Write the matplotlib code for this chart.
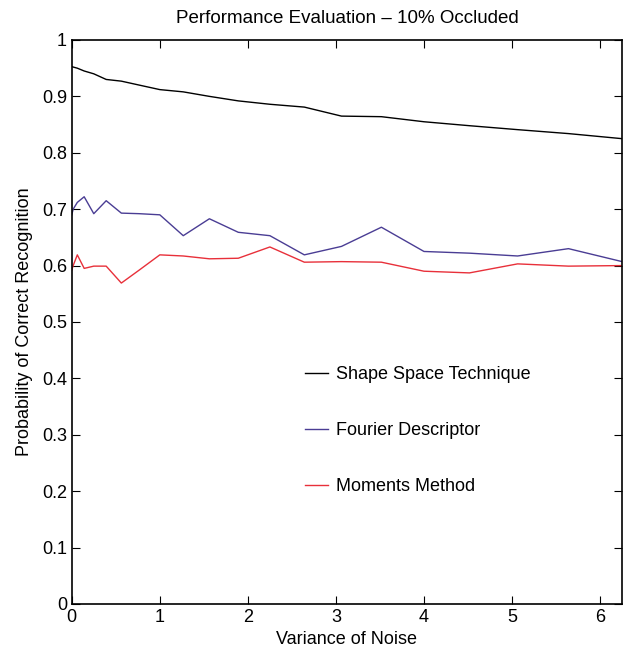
import matplotlib
matplotlib.use("Agg")
import matplotlib.pyplot as plt

plt.rcParams['font.family'] = ['Liberation Sans', 'DejaVu Sans']

noise_var = [0, 0.016, 0.063, 0.141, 0.25, 0.391, 0.563, 0.766, 1.0, 1.266, 1.563,
             1.891, 2.25, 2.641, 3.063, 3.516, 4.0, 4.516, 5.063, 5.641, 6.25]

shape_space = [0.953, 0.952, 0.950, 0.945, 0.940, 0.930, 0.927, 0.920, 0.912, 0.908, 0.900,
               0.892, 0.886, 0.881, 0.865, 0.864, 0.855, 0.848, 0.841, 0.834, 0.825]
fourier = [0.690, 0.700, 0.712, 0.722, 0.692, 0.715, 0.693, 0.692, 0.690, 0.653, 0.683,
           0.659, 0.653, 0.619, 0.634, 0.668, 0.625, 0.622, 0.617, 0.630, 0.607]
moments = [0.592, 0.600, 0.619, 0.595, 0.599, 0.599, 0.569, 0.592, 0.619, 0.617, 0.612,
           0.613, 0.633, 0.606, 0.607, 0.606, 0.590, 0.587, 0.603, 0.599, 0.600]

fig = plt.figure(figsize=(6.24, 6.64), dpi=100)
ax = fig.add_axes([0.115, 0.0904, 0.882, 0.8494])

ax.plot(noise_var, shape_space, color='black', lw=1.0, label='Shape Space Technique')
ax.plot(noise_var, fourier, color='#4a3d94', lw=1.0, label='Fourier Descriptor')
ax.plot(noise_var, moments, color='#e8303a', lw=1.0, label='Moments Method')

ax.set_xlim(0, 6.25)
ax.set_ylim(0, 1)
ax.set_xticks(range(0, 7))
ax.set_yticks([i / 10 for i in range(11)])
ax.set_yticklabels(['0', '0.1', '0.2', '0.3', '0.4', '0.5', '0.6', '0.7', '0.8', '0.9', '1'])
ax.tick_params(direction='in', top=True, right=True, labelsize=13, length=6)
for s in ax.spines.values():
    s.set_linewidth(1.2)

ax.set_xlabel('Variance of Noise', fontsize=13, labelpad=4)
ax.set_ylabel('Probability of Correct Recognition', fontsize=13, labelpad=6)
ax.set_title('Performance Evaluation \u2013 10% Occluded', fontsize=13.5, pad=12)

ax.legend(loc='upper left', bbox_to_anchor=(0.394, 0.45), frameon=False, fontsize=13,
          handlelength=1.3, handletextpad=0.4, labelspacing=2.15)

plt.savefig('out.png', dpi=100)
plt.close()
